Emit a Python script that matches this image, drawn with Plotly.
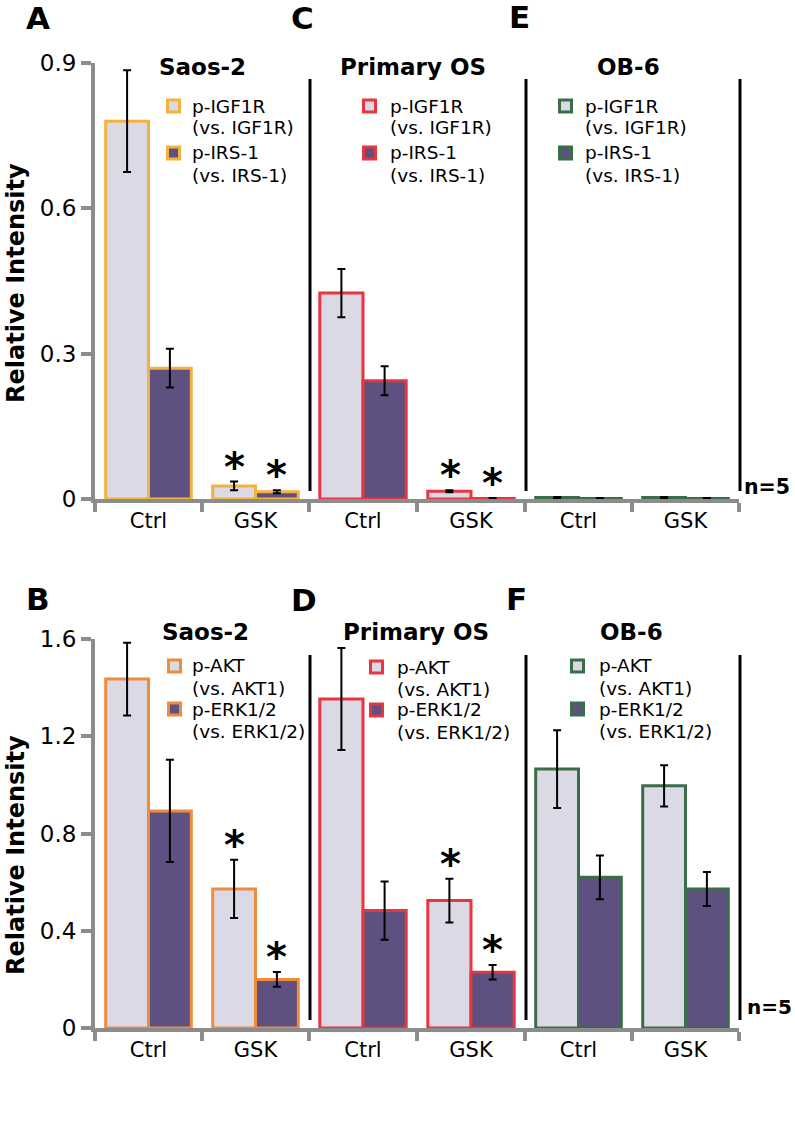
import plotly.graph_objects as go

# ---------------- data ----------------
categories = ["Ctrl", "GSK"]

# Top row (A, C, E): p-IGF1R (vs. IGF1R) and p-IRS-1 (vs. IRS-1)
saos_igf1r = [0.78, 0.027]
saos_igf1r_err = [0.105, 0.009]
saos_irs1 = [0.27, 0.015]
saos_irs1_err = [0.04, 0.003]

prim_igf1r = [0.425, 0.016]
prim_igf1r_err = [0.05, 0.002]
prim_irs1 = [0.244, 0.001]
prim_irs1_err = [0.03, 0.001]

ob6_igf1r = [0.003, 0.003]
ob6_igf1r_err = [0.001, 0.001]
ob6_irs1 = [0.001, 0.001]
ob6_irs1_err = [0.001, 0.001]

# Bottom row (B, D, F): p-AKT (vs. AKT1) and p-ERK1/2 (vs. ERK1/2)
saos_akt = [1.435, 0.572]
saos_akt_err = [0.15, 0.12]
saos_erk = [0.893, 0.20]
saos_erk_err = [0.21, 0.03]

prim_akt = [1.353, 0.524]
prim_akt_err = [0.21, 0.09]
prim_erk = [0.483, 0.229]
prim_erk_err = [0.12, 0.03]

ob6_akt = [1.065, 0.996]
ob6_akt_err = [0.16, 0.085]
ob6_erk = [0.62, 0.572]
ob6_erk_err = [0.09, 0.07]

# significance flags (True -> asterisk)
sig_saos_top = [[False, True], [False, True]]
sig_prim_top = [[False, True], [False, True]]
sig_ob6_top = [[False, False], [False, False]]
sig_saos_bot = [[False, True], [False, True]]
sig_prim_bot = [[False, True], [False, True]]
sig_ob6_bot = [[False, False], [False, False]]

top_labels = [["p-IGF1R", "(vs. IGF1R)"], ["p-IRS-1", "(vs. IRS-1)"]]
bot_labels = [["p-AKT", "(vs. AKT1)"], ["p-ERK1/2", "(vs. ERK1/2)"]]
cell_titles = ["Saos-2", "Primary OS", "OB-6"]
top_ticks = [0, 0.3, 0.6, 0.9]
bot_ticks = [0, 0.4, 0.8, 1.2, 1.6]

# ---------------- styling ----------------
W, H = 795, 1126
FONT = "DejaVu Sans, Liberation Sans, Arial, sans-serif"
LIGHT = "#DCD9E6"
DARK = "#5E5080"
GRAY = "#8C8C8C"
EDGE_A = "#F2B33D"
EDGE_B = "#EF8B3A"
EDGE_RED = "#E8353F"
EDGE_GREEN = "#3A6E48"


def px(xp):
    return xp / W


def py(yp):
    return 1 - yp / H


x_domains = [[px(95), px(309)], [px(309), px(525)], [px(525), px(739)]]
y_top = [py(499), py(63)]
y_bot = [py(1028), py(639)]

panels = [
    # (row, col, light, light_err, dark, dark_err, edge, sig, labels)
    (0, 0, saos_igf1r, saos_igf1r_err, saos_irs1, saos_irs1_err, EDGE_A, sig_saos_top, top_labels),
    (0, 1, prim_igf1r, prim_igf1r_err, prim_irs1, prim_irs1_err, EDGE_RED, sig_prim_top, top_labels),
    (0, 2, ob6_igf1r, ob6_igf1r_err, ob6_irs1, ob6_irs1_err, EDGE_GREEN, sig_ob6_top, top_labels),
    (1, 0, saos_akt, saos_akt_err, saos_erk, saos_erk_err, EDGE_B, sig_saos_bot, bot_labels),
    (1, 1, prim_akt, prim_akt_err, prim_erk, prim_erk_err, EDGE_RED, sig_prim_bot, bot_labels),
    (1, 2, ob6_akt, ob6_akt_err, ob6_erk, ob6_erk_err, EDGE_GREEN, sig_ob6_bot, bot_labels),
]

# legend placement (square left px, text left px, first-line centre px)
legend_pos = {
    (0, 0): (166, 190, 106), (0, 1): (362, 388, 106), (0, 2): (558, 583, 106),
    (1, 0): (167, 190, 666), (1, 1): (369, 395, 667), (1, 2): (570, 597, 666),
}
legend_rows = {0: [0, 22, 47, 70], 1: [0, 22, 43, 65]}
SQ = 15

fig = go.Figure()
layout = dict(
    width=W, height=H,
    margin=dict(l=0, r=0, t=0, b=0, autoexpand=False),
    paper_bgcolor="white", plot_bgcolor="white",
    barmode="group", bargap=0.2, bargroupgap=0.0,
    font=dict(family=FONT, color="black"),
    showlegend=False,
)
annotations = []
shapes = []

for i, (row, col, lv, le, dv, de, edge, sig, labels) in enumerate(panels):
    n = i + 1
    xa = "x" if n == 1 else f"x{n}"
    ya = "y" if n == 1 else f"y{n}"
    for j, (vals, errs, fill) in enumerate([(lv, le, LIGHT), (dv, de, DARK)]):
        fig.add_trace(go.Bar(
            x=categories, y=vals, name=" ".join(labels[j]),
            xaxis=xa, yaxis=ya,
            marker=dict(color=fill, line=dict(color=edge, width=3)),
            error_y=dict(type="data", array=errs, visible=True,
                         color="black", thickness=2, width=4),
            offsetgroup=str(j),
        ))
        for k, cat in enumerate(categories):
            if sig[j][k]:
                annotations.append(dict(
                    x=cat, y=vals[k] + errs[k], xref=xa, yref=ya,
                    text="<b>*</b>", showarrow=False,
                    xanchor="center", yanchor="bottom",
                    xshift=-21 if j == 0 else 21, yshift=-10,
                    font=dict(size=40, family=FONT, color="black"),
                ))

    ymax = 0.9 if row == 0 else 1.6
    ticks = top_ticks if row == 0 else bot_ticks
    xdict = dict(
        domain=x_domains[col], anchor=ya, type="category", automargin=False,
        tickson="boundaries", ticks="outside", ticklen=9, tickwidth=4,
        tickcolor=GRAY, showline=True, linecolor=GRAY, linewidth=4,
        showgrid=False, zeroline=False, range=[-0.5, 1.5],
        tickfont=dict(size=21, family=FONT, color="black"),
    )
    ydict = dict(
        domain=y_top if row == 0 else y_bot, anchor=xa, automargin=False,
        range=[0, ymax], showgrid=False, zeroline=False,
    )
    if col == 0:
        ydict.update(
            tickvals=ticks, ticktext=[("%g" % t) for t in ticks],
            ticks="outside", ticklen=10, tickwidth=4, tickcolor=GRAY,
            showline=True, linecolor=GRAY, linewidth=4,
            tickfont=dict(size=23, family=FONT, color="black"),
        )
    else:
        ydict.update(showline=False, showticklabels=False, ticks="")
    layout["xaxis" if n == 1 else f"xaxis{n}"] = xdict
    layout["yaxis" if n == 1 else f"yaxis{n}"] = ydict

    # custom legend: two swatches, four text lines
    sx, tx, y0 = legend_pos[(row, col)]
    rows = legend_rows[row]
    for j, fill in enumerate([LIGHT, DARK]):
        cy = y0 + rows[2 * j]
        shapes.append(dict(
            type="rect", xref="paper", yref="paper",
            x0=px(sx + 1.5), x1=px(sx + SQ - 1.5),
            y0=py(cy + SQ / 2 - 1.5), y1=py(cy - SQ / 2 + 1.5),
            fillcolor=fill, line=dict(color=edge, width=3),
        ))
        for m in range(2):
            annotations.append(dict(
                x=px(tx), y=py(y0 + rows[2 * j + m]), xref="paper", yref="paper",
                text=labels[j][m], showarrow=False, xanchor="left", yanchor="middle",
                font=dict(size=18.5, family=FONT, color="black"),
            ))

TXT = dict(xref="paper", yref="paper", showarrow=False, xanchor="center", yanchor="middle")

# Cell-line titles
title_x_top = [202, 413, 628]
title_x_bot = [205, 416, 631]
for c in range(3):
    annotations.append(dict(TXT, x=px(title_x_top[c]), y=py(67),
                            text=f"<b>{cell_titles[c]}</b>",
                            font=dict(size=23, family=FONT, color="black")))
    annotations.append(dict(TXT, x=px(title_x_bot[c]), y=py(632),
                            text=f"<b>{cell_titles[c]}</b>",
                            font=dict(size=23, family=FONT, color="black")))

# Panel letters
letters = [("A", 38, 18), ("C", 302, 18), ("E", 519, 17),
           ("B", 38, 599), ("D", 304, 600), ("F", 516, 599)]
for t, lx, ly in letters:
    annotations.append(dict(TXT, x=px(lx), y=py(ly), text=f"<b>{t}</b>",
                            font=dict(size=31, family=FONT, color="black")))

# Y-axis titles
for yc in (283, 855):
    annotations.append(dict(TXT, x=px(16), y=py(yc),
                            text="<b>Relative Intensity</b>", textangle=-90,
                            font=dict(size=24, family=FONT, color="black")))

# n=5
annotations.append(dict(TXT, x=px(742), y=py(487), xanchor="left",
                        text="<b>n=5</b>",
                        font=dict(size=20.5, family=FONT, color="black")))
annotations.append(dict(TXT, x=px(745), y=py(1007), xanchor="left",
                        text="<b>n=5</b>",
                        font=dict(size=20, family=FONT, color="black")))

# Black panel separators
for xs in (310, 526, 740):
    shapes.append(dict(type="line", xref="paper", yref="paper",
                       x0=px(xs), x1=px(xs), y0=py(79), y1=py(491),
                       line=dict(color="black", width=3)))
    shapes.append(dict(type="line", xref="paper", yref="paper",
                       x0=px(xs), x1=px(xs), y0=py(655), y1=py(1020),
                       line=dict(color="black", width=3)))

layout["annotations"] = annotations
layout["shapes"] = shapes
fig.update_layout(**layout)
fig.write_html(
    "out.html",
    config={"displayModeBar": False},
    post_script="document.body.style.margin='0';document.body.style.overflow='hidden';",
)
